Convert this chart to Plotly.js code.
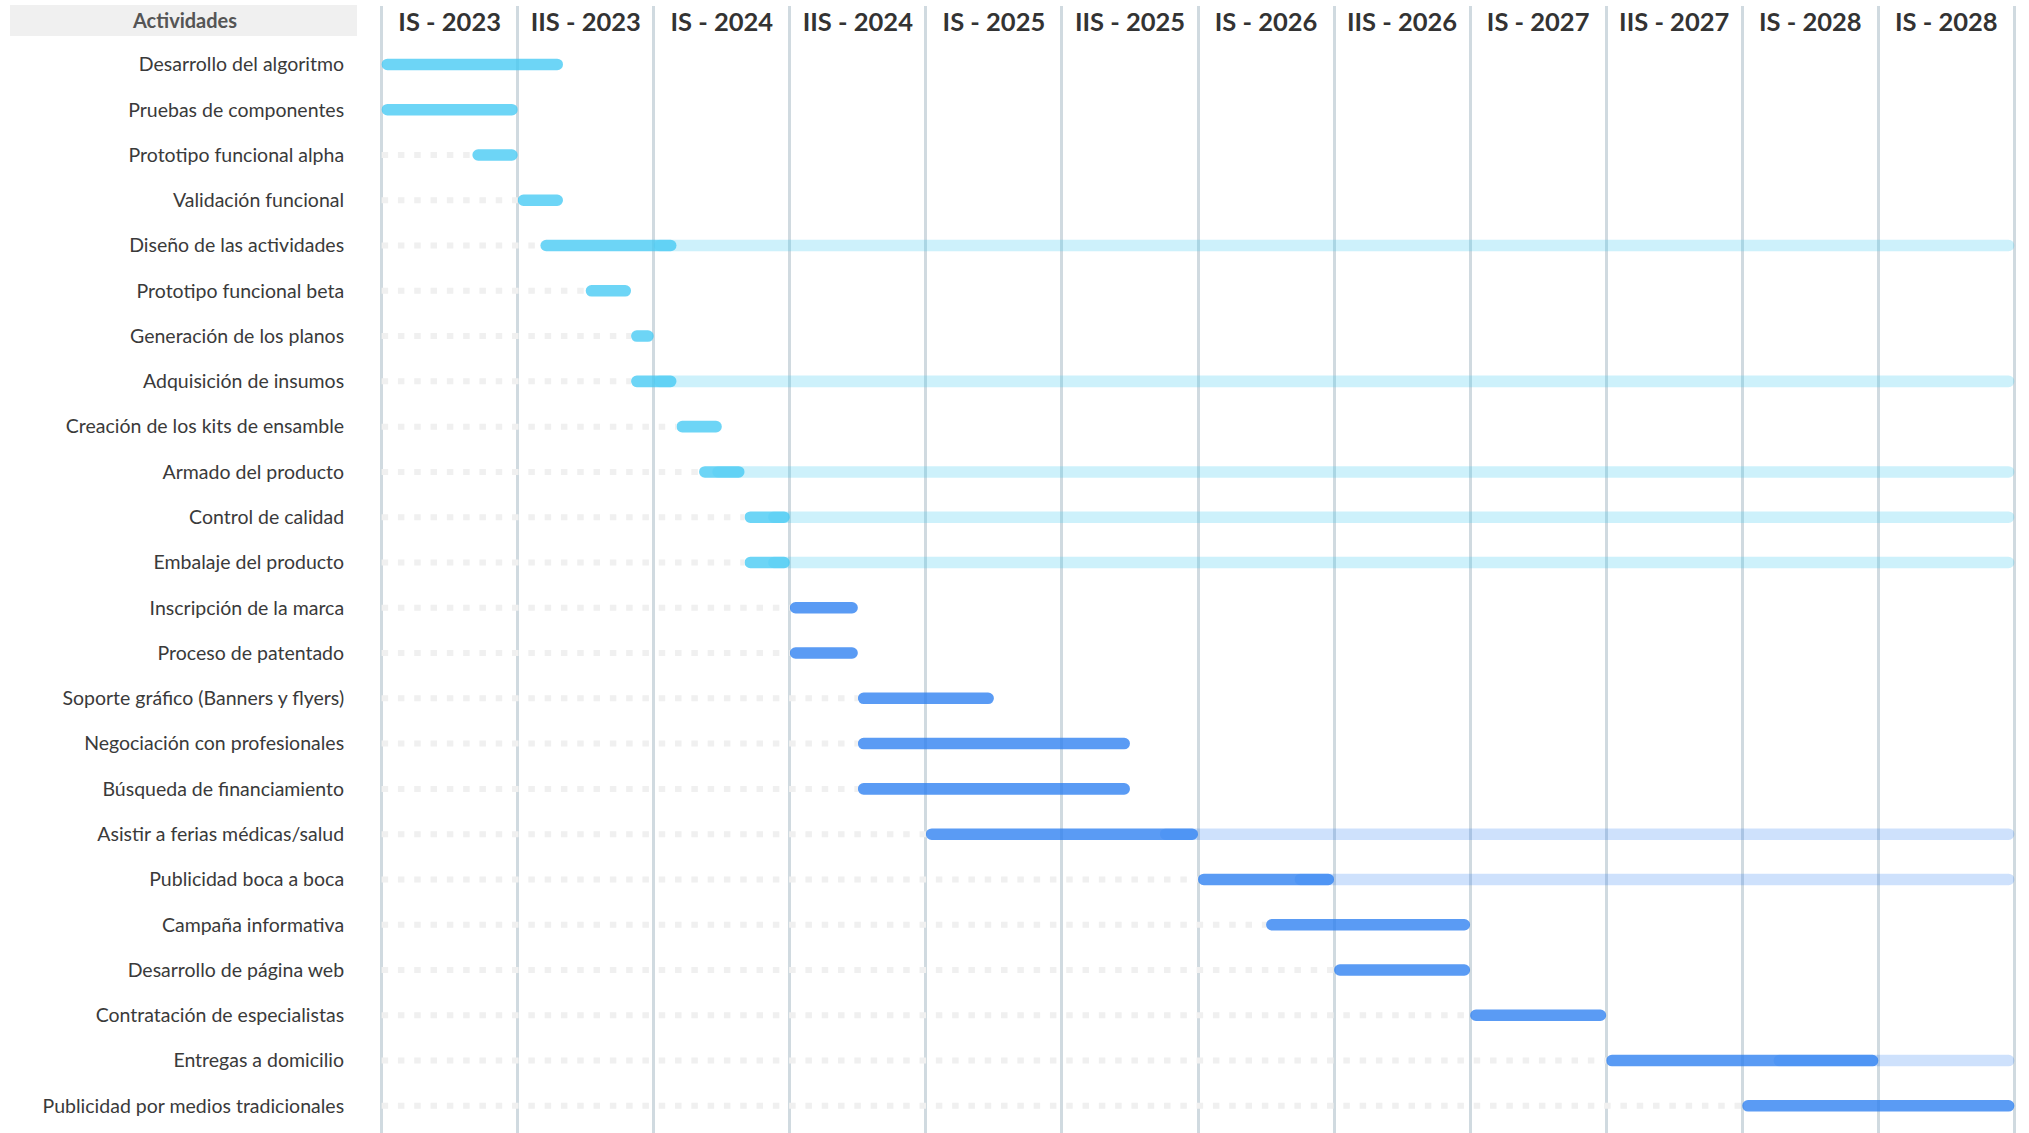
<!DOCTYPE html>
<html>
<head>
<meta charset="utf-8">
<script src="https://cdn.plot.ly/plotly-3.0.1.min.js"></script>
<style>
  html, body { margin: 0; padding: 0; background: #ffffff; }
  #chart { width: 2029px; height: 1133px; }
</style>
</head>
<body>
<div id="chart"></div>
<script>
// ---- DATA (semester units: 0 = start of IS-2023, 1 semester = 6 months) ----
const activities = [
  "Desarrollo del algoritmo",
  "Pruebas de componentes",
  "Prototipo funcional alpha",
  "Validación funcional",
  "Diseño de las actividades",
  "Prototipo funcional beta",
  "Generación de los planos",
  "Adquisición de insumos",
  "Creación de los kits de ensamble",
  "Armado del producto",
  "Control de calidad",
  "Embalaje del producto",
  "Inscripción de la marca",
  "Proceso de patentado",
  "Soporte gráfico (Banners y flyers)",
  "Negociación con profesionales",
  "Búsqueda de financiamiento",
  "Asistir a ferias médicas/salud",
  "Publicidad boca a boca",
  "Campaña informativa",
  "Desarrollo de página web",
  "Contratación de especialistas",
  "Entregas a domicilio",
  "Publicidad por medios tradicionales"
];
const startSem = [0, 0, 0.667, 1, 1.167, 1.5, 1.833, 1.833, 2.167, 2.333, 2.667, 2.667,
                  3, 3, 3.5, 3.5, 3.5, 4, 6, 6.5, 7, 8, 9, 10];
const endSem   = [1.333, 1, 1, 1.333, 2.167, 1.833, 2, 2.167, 2.5, 2.667, 3, 3,
                  3.5, 3.5, 4.5, 5.5, 5.5, 6, 7, 8, 8, 9, 11, 12];
// start of the light "continuing" band (null = none)
const ongoingFrom = [null, null, null, null, 2.0, null, null, 2.0, null, 2.43, 2.84, 2.84,
                     null, null, null, null, null, 5.72, 6.71, null, null, null, 10.23, null];
// phase of each activity (development = 0, launch/marketing = 1)
const phase = [0,0,0,0,0,0,0,0,0,0,0,0, 1,1,1,1,1,1,1,1,1,1,1,1];
const semesters = ["IS - 2023", "IIS - 2023", "IS - 2024", "IIS - 2024", "IS - 2025", "IIS - 2025",
                   "IS - 2026", "IIS - 2026", "IS - 2027", "IIS - 2027", "IS - 2028", "IS - 2028"];
const headerTitle = "Actividades";

// ---- STYLE ----
const FONT = 'Lato, "Open Sans", "Noto Sans", sans-serif';
const mainColor  = ['rgba(68,201,243,0.78)', 'rgba(43,127,241,0.78)'];
const lightColor = ['rgba(72,202,242,0.27)', 'rgba(43,127,241,0.23)'];
const BAR_W = 0.255;
const rows = activities.map((_, i) => i);
const END = semesters.length;

// light continuation bands
const ongIdx = rows.filter(i => ongoingFrom[i] !== null);
const ongoingTrace = {
  type: 'bar', orientation: 'h',
  y: ongIdx,
  base: ongIdx.map(i => ongoingFrom[i]),
  x: ongIdx.map(i => END - ongoingFrom[i]),
  width: BAR_W,
  marker: { color: ongIdx.map(i => lightColor[phase[i]]), cornerradius: '50%', line: {width: 0} },
  hoverinfo: 'skip', showlegend: false
};

// main bars
const mainTrace = {
  type: 'bar', orientation: 'h',
  y: rows, base: startSem, x: rows.map(i => endSem[i] - startSem[i]),
  width: BAR_W,
  marker: { color: rows.map(i => mainColor[phase[i]]), cornerradius: '50%', line: {width: 0} },
  hoverinfo: 'skip', showlegend: false
};

// dotted leaders from the chart start up to each bar
const lx = [], ly = [];
rows.forEach(i => { if (startSem[i] > 0) { lx.push(0, startSem[i], null); ly.push(i, i, null); } });
const leaders = {
  type: 'scatter', mode: 'lines', x: lx, y: ly,
  line: { color: '#f0f0f0', width: 6, dash: '6.5px,9.8px' },
  hoverinfo: 'skip', showlegend: false, connectgaps: false
};

// semester header labels
const headerRow = -0.87;
const headers = {
  type: 'scatter', mode: 'text',
  x: semesters.map((_, k) => k + 0.5),
  y: semesters.map(() => headerRow),
  text: semesters,
  textposition: 'middle center',
  textfont: { family: FONT, size: 25.5, color: '#333333', weight: 'bold' },
  hoverinfo: 'skip', showlegend: false, cliponaxis: false
};

const L = 380, R = 13, T = 6, B = 0, W = 2029, H = 1133;
const plotW = W - L - R;
const layout = {
  width: W, height: H,
  margin: { l: L, r: R, t: T, b: B, pad: 0 },
  paper_bgcolor: '#ffffff', plot_bgcolor: '#ffffff',
  barmode: 'overlay',
  showlegend: false,
  font: { family: FONT, color: '#3a3a3a' },
  xaxis: {
    range: [-0.012, END + 0.012],
    tickmode: 'linear', tick0: 0, dtick: 1,
    showgrid: true, gridcolor: '#d0dae0', gridwidth: 3,
    showticklabels: false, zeroline: false, showline: false, ticks: '',
    fixedrange: true
  },
  yaxis: {
    range: [23.6, -1.29],
    tickmode: 'array', tickvals: rows, ticktext: activities,
    tickfont: { family: FONT, size: 19.5, color: '#3a3a3a' },
    ticks: 'outside', ticklen: 31, tickcolor: 'rgba(0,0,0,0)',
    showgrid: false, zeroline: false, showline: false, fixedrange: true
  },
  shapes: [{
    type: 'rect', xref: 'paper', yref: 'paper', layer: 'below',
    x0: (10 - L) / plotW, x1: (357 - L) / plotW,
    y0: 1 - (36 - T) / (H - T - B), y1: 1 - (5 - T) / (H - T - B),
    fillcolor: '#f0f0f0', line: { width: 0 }
  }],
  annotations: [{
    xref: 'paper', yref: 'y', x: (184 - L) / plotW, y: -0.97,
    text: headerTitle, showarrow: false, xanchor: 'center', yanchor: 'middle',
    font: { family: FONT, size: 20, color: '#555555', weight: 'bold' }
  }]
};

Plotly.newPlot('chart', [leaders, ongoingTrace, mainTrace, headers], layout,
  { displayModeBar: false, staticPlot: true });
</script>
</body>
</html>
